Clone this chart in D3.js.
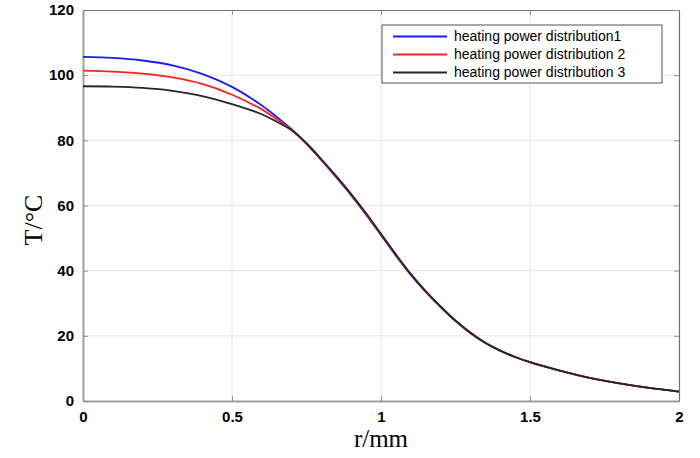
<!DOCTYPE html>
<html>
<head>
<meta charset="utf-8">
<script src="https://cdn.jsdelivr.net/npm/d3@7"></script>
<style>
  body { margin: 0; background: #fff; }
  svg { display: block; }
</style>
</head>
<body>
<div id="chart"></div>
<script>
// radius (mm) and temperature (deg C)
const radius = [0, 0.1, 0.2, 0.3, 0.4, 0.5, 0.6, 0.65, 0.7, 0.75, 0.8, 0.85, 0.9, 0.95, 1.0, 1.05, 1.1, 1.15, 1.2, 1.25, 1.3, 1.35, 1.4, 1.45, 1.5, 1.6, 1.7, 1.8, 1.9, 2.0];
const temp1 = [105.6, 105.3, 104.5, 103.0, 100.4, 96.4, 90.7, 87.2, 83.4, 78.9, 73.9, 68.6, 63.1, 57.2, 50.9, 44.6, 38.7, 33.5, 28.8, 24.5, 20.8, 17.8, 15.4, 13.5, 11.9, 9.3, 7.1, 5.4, 4.0, 2.9];
const temp2 = [101.4, 101.1, 100.5, 99.3, 97.3, 94.0, 89.5, 86.5, 83.3, 79.0, 74.0, 68.8, 63.3, 57.4, 51.1, 44.8, 38.9, 33.6, 28.9, 24.6, 20.9, 17.9, 15.5, 13.5, 11.9, 9.3, 7.1, 5.4, 4.0, 2.9];
const temp3 = [96.6, 96.5, 96.1, 95.2, 93.6, 91.1, 88.0, 85.7, 83.1, 79.1, 74.2, 69.0, 63.5, 57.6, 51.3, 45.0, 39.0, 33.7, 29.0, 24.7, 21.0, 17.9, 15.5, 13.5, 11.9, 9.3, 7.1, 5.4, 4.0, 2.9];
const seriesNames = ['heating power distribution1', 'heating power distribution 2', 'heating power distribution 3'];
const seriesColors = ['#1a1aff', '#ff2020', '#262626'];
const xTicks = [0, 0.5, 1, 1.5, 2];
const yTicks = [0, 20, 40, 60, 80, 100, 120];

const W = 700, H = 458;
const margin = {top: 10, right: 21, bottom: 57, left: 83};
const w = W - margin.left - margin.right,
      h = H - margin.top - margin.bottom;

const svg = d3.select('#chart').append('svg')
    .attr('width', W)
    .attr('height', H);

const g = svg.append('g')
    .attr('transform', 'translate(' + margin.left + ',' + margin.top + ')');

let xScale = d3.scaleLinear().domain([0, 2]).range([0, w]);
let yScale = d3.scaleLinear().domain([0, 120]).range([h, 0]);

// grid
g.append('g').selectAll('line.gx')
    .data(xTicks.slice(1, -1))
    .enter().append('line')
    .attr('x1', d => xScale(d)).attr('x2', d => xScale(d))
    .attr('y1', 0).attr('y2', h)
    .attr('stroke', '#e6e6e6').attr('stroke-width', 1);
g.append('g').selectAll('line.gy')
    .data(yTicks.slice(1, -1))
    .enter().append('line')
    .attr('x1', 0).attr('x2', w)
    .attr('y1', d => yScale(d)).attr('y2', d => yScale(d))
    .attr('stroke', '#e6e6e6').attr('stroke-width', 1);

// axes (inward ticks on all four sides, matlab style)
const xAxis = g.append('g')
    .attr('transform', 'translate(0,' + h + ')')
    .call(d3.axisBottom(xScale).tickValues(xTicks).tickFormat(d3.format('')).tickSizeInner(-5).tickSizeOuter(0).tickPadding(10));
const yAxis = g.append('g')
    .call(d3.axisLeft(yScale).tickValues(yTicks).tickSizeInner(-5).tickSizeOuter(0).tickPadding(9));
const xTop = g.append('g')
    .call(d3.axisTop(xScale).tickValues(xTicks).tickFormat('').tickSizeInner(-5).tickSizeOuter(0));
const yRight = g.append('g')
    .attr('transform', 'translate(' + w + ',0)')
    .call(d3.axisRight(yScale).tickValues(yTicks).tickFormat('').tickSizeInner(-5).tickSizeOuter(0));

[xAxis, yAxis].forEach(a => {
    a.select('.domain').attr('stroke', '#a0a0a0').attr('stroke-width', 2);
    a.selectAll('.tick line').attr('stroke', '#909090');
    a.selectAll('.tick text')
        .attr('fill', '#000')
        .style('font-family', 'Liberation Sans, Arial, sans-serif')
        .style('font-size', '15px')
        .style('font-weight', 'bold');
});
[xTop, yRight].forEach(a => {
    a.select('.domain').attr('stroke', '#707070').attr('stroke-width', 1.2);
    a.selectAll('.tick line').attr('stroke', '#909090');
});

// curves
const series = [temp1, temp2, temp3];
const line = d3.line()
    .x((d, i) => xScale(radius[i]))
    .y(d => yScale(d))
    .curve(d3.curveCatmullRom.alpha(0.5));

g.selectAll('path.curve')
    .data(series)
    .enter().append('path')
    .attr('class', 'curve')
    .attr('fill', 'none')
    .attr('stroke', (d, i) => seriesColors[i])
    .attr('stroke-width', 1.8)
    .attr('d', line);

// legend
const lg = svg.append('g').attr('transform', 'translate(382,25)');
lg.append('rect')
    .attr('width', 280).attr('height', 58)
    .attr('fill', '#fff').attr('stroke', '#555').attr('stroke-width', 1);
const items = lg.selectAll('g.item')
    .data(seriesNames)
    .enter().append('g')
    .attr('transform', (d, i) => 'translate(0,' + (11.5 + i * 18) + ')');
items.append('line')
    .attr('x1', 11).attr('x2', 65)
    .attr('stroke', (d, i) => seriesColors[i])
    .attr('stroke-width', 1.8);
items.append('text')
    .attr('x', 72).attr('dy', '0.35em')
    .style('font-family', 'Liberation Sans, Arial, sans-serif')
    .style('font-size', '14px')
    .text(d => d);

// axis titles
svg.append('text')
    .attr('x', margin.left + w / 2).attr('y', 447)
    .attr('text-anchor', 'middle')
    .style('font-family', 'Liberation Serif, Times New Roman, serif')
    .style('font-size', '25px')
    .text('r/mm');
svg.append('text')
    .attr('transform', 'translate(42,220) rotate(-90)')
    .attr('text-anchor', 'middle')
    .style('font-family', 'Liberation Serif, Times New Roman, serif')
    .style('font-size', '26px')
    .text('T/°C');
</script>
</body>
</html>
